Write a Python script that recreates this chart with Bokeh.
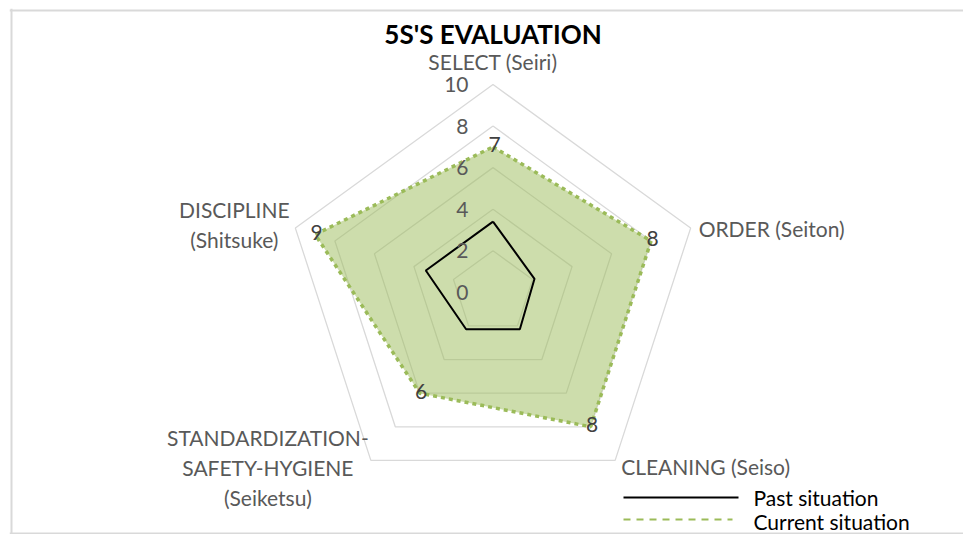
import numpy as np
from bokeh.plotting import figure
from bokeh.models import Range1d, ColumnDataSource, Span
from bokeh.core.properties import value
from bokeh.embed import file_html
from bokeh.resources import INLINE

# ---------------- data ----------------
title_text = "5S'S EVALUATION"
categories = ["SELECT (Seiri)", "ORDER (Seiton)", "CLEANING (Seiso)",
              "STANDARDIZATION-\nSAFETY-HYGIENE\n(Seiketsu)", "DISCIPLINE\n(Shitsuke)"]
past = [3.4, 2.1, 2.2, 2.2, 3.4]
current = [7, 8, 8, 6, 9]
ticks = [0, 2, 4, 6, 8, 10]
tick_labels = ["0", "2", "4", "6", "8", "10"]
series_names = ["Past situation", "Current situation"]

# ---------------- layout ----------------
W, H = 963, 534
PX = 20.78                     # pixels per value unit
FL, FT = 9, 8                  # frame offset inside figure
FW, FH = W - FL, H - FT
CX, CY = 483.5, 283.8          # radar centre in frame pixels
RMAX = max(ticks)

FONT = value("Lato")
FS = "21px"
GREEN = "#9BBB59"
GREY_TXT = "#595959"

p = figure(width=W, height=H, output_backend="svg", toolbar_location=None,
           x_range=Range1d(-CX / PX, (FW - CX) / PX),
           y_range=Range1d(-(FH - CY) / PX, CY / PX),
           min_border_left=FL, min_border_top=FT, min_border_right=0, min_border_bottom=0)
p.axis.visible = False
p.grid.visible = False
p.outline_line_color = None
p.background_fill_color = "white"
p.border_fill_color = "white"

def sx(v):
    return (v - FL - CX) / PX
def sy(v):
    return (CY - (v - FT)) / PX

# chart-area border (top, left, bottom; right side lies outside the window)
for loc, dim in [(sy(10), "width"), (sx(11), "height"), (sy(533), "width")]:
    p.add_layout(Span(location=loc, dimension=dim, line_color="#d9d9d9", line_width=2))

n = len(categories)
ang = np.deg2rad(90 - 72 * np.arange(n))

def poly(vals):
    v = np.asarray(vals, dtype=float)
    xs = v * np.cos(ang)
    ys = v * np.sin(ang)
    return list(xs) + [xs[0]], list(ys) + [ys[0]]

# grid rings
ring_xs, ring_ys = [], []
for t in ticks[1:]:
    x, y = poly([t] * n)
    ring_xs.append(x)
    ring_ys.append(y)
p.multi_line(ring_xs, ring_ys, line_color="#d9d9d9", line_width=1.3)

# current situation (filled)
cx_, cy_ = poly(current)
p.patch(cx_, cy_, fill_color=GREEN, fill_alpha=0.5, line_color=None)
p.line(cx_, cy_, line_color=GREEN, line_width=3.5, line_dash="4 4")

# past situation
px_, py_ = poly(past)
p.line(px_, py_, line_color="black", line_width=2)

# value axis tick labels
p.text(x=[0] * len(ticks), y=ticks, text=tick_labels, x_offset=-24.5,
       text_align="right", text_baseline="middle", text_font=FONT,
       text_font_size=FS, text_color=GREY_TXT)

# category labels
vx, vy = poly([RMAX] * n)
cat_src = ColumnDataSource(dict(
    x=vx[:n], y=vy[:n], text=categories,
    xo=[0, 8, 6, -103, -61], yo=[-23.5, 0, 6, 6.6, -3.6],
    al=["center", "left", "left", "center", "center"]))
p.text(x="x", y="y", text="text", x_offset="xo", y_offset="yo", text_align="al",
       source=cat_src, text_baseline="middle", text_font=FONT,
       text_font_size=FS, text_color=GREY_TXT, text_line_height=1.2)

# data labels for current series
p.text(x=cx_[:n], y=cy_[:n], text=[str(v) for v in current], x_offset=1.5, y_offset=-2,
       text_align="center", text_baseline="middle", text_font=FONT,
       text_font_size=FS, text_color="#404040")

# title
p.text(x=[0], y=[RMAX], text=[title_text], y_offset=-51, text_align="center",
       text_baseline="middle", text_font=FONT, text_font_size="26px",
       text_font_style="bold", text_color="black")

# legend (drawn manually)
p.line([sx(623), sx(738)], [sy(497), sy(497)], line_color="black", line_width=2)
p.line([sx(623), sx(732)], [sy(519), sy(519)], line_color=GREEN, line_width=2, line_dash="7 6")
p.text(x=[sx(753), sx(753)], y=[sy(497), sy(521)], text=series_names,
       text_align="left", text_baseline="middle", text_font=FONT,
       text_font_size=FS, text_color="black")

open("out.html", "w").write(file_html(p, INLINE))
